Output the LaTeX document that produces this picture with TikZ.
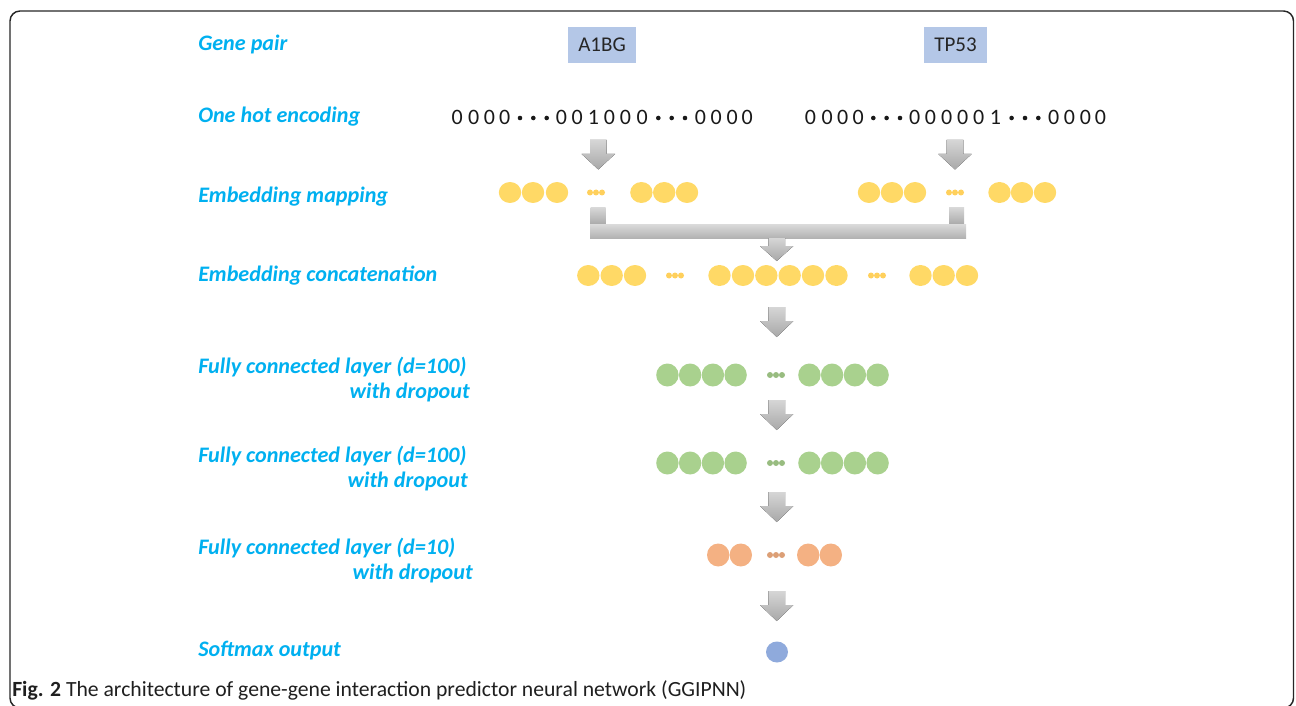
\documentclass[tikz,border=0pt]{standalone}
\usepackage{fontspec}
\setmainfont{Carlito}
\definecolor{lblc}{HTML}{00B0F0}
\definecolor{geneboxc}{HTML}{B4C7E7}
\definecolor{yel}{HTML}{FFD966}
\definecolor{grn}{HTML}{A9D18E}
\definecolor{org}{HTML}{F4B183}
\definecolor{blu}{HTML}{8FAADC}
\definecolor{arrtop}{HTML}{D6D6D6}
\definecolor{arrbot}{HTML}{A8A8A8}
\tikzset{
  lbl/.style={anchor=base west, inner sep=0pt, text=lblc, font=\fontsize{16.6}{19}\selectfont\bfseries\itshape},
  drop/.style={anchor=base east, inner sep=0pt, text=lblc, font=\fontsize{16.6}{19}\selectfont\bfseries\itshape},
  genebox/.style={fill=geneboxc, inner sep=0pt, minimum height=27pt, text=black!85, font=\fontsize{15.75}{18}\selectfont},
  digit/.style={anchor=base, inner sep=0pt, text=black!90, font=\fontsize{16.5}{18}\selectfont},
  barrow/.style={top color=arrtop, bottom color=arrbot, draw=none},
  bigdot/.style={x radius=11.2, y radius=10.5},
  fcdot/.style={x radius=11.2, y radius=11.5},
}
\newcommand{\blkarrow}[4]{% x, ytop, yhead, ytip
  \fill[barrow] (#1-8.3,#2) -- (#1+8.3,#2) -- (#1+8.3,#3) -- (#1+16.7,#3) -- (#1,#4)
     -- (#1-16.7,#3) -- (#1-8.3,#3) -- cycle;}
\begin{document}
\begin{tikzpicture}[x=0.75pt,y=-0.75pt]
\useasboundingbox (0,0) rectangle (1296,706);
% frame
\draw[line width=1.1pt, black!85, rounded corners=7.5pt] (10,11) rectangle (1293.5,708);

% labels
\node[lbl] (l1) at (198,51) {Gene pair};
\node[lbl] (l2) at (198,123) {One hot encoding};
\node[lbl] (l3) at (198,203) {Embedding mapping};
\node[lbl] (l4) at (198,281) {Embedding concatenation};
\node[lbl] (l5) at (198,373) {Fully connected layer (d=100)};
\node[drop] (l5b) at (470,398) {with dropout};
\node[lbl] (l6) at (198,462) {Fully connected layer (d=100)};
\node[drop] (l6b) at (468,487) {with dropout};
\node[lbl] (l7) at (198,554) {Fully connected layer (d=10)};
\node[drop] (l7b) at (473,579) {with dropout};
\node[lbl] (l8) at (198,656) {Softmax output};

% gene boxes
\node[genebox, minimum width=51pt] (a1bg) at (602,45) {A1BG};
\node[genebox, minimum width=47.25pt] (tp53) at (955.5,45) {TP53};

% one hot encodings
\foreach \x/\c in {457.2/0,473.8/0,489.5/0,504.8/0,561.5/0,577.2/0,593.5/1,609.5/0,625.5/0,642.2/0,700.5/0,716.2/0,732.2/0,747.2/0}
  \node[digit] at (\x,125) {\c};
\foreach \x in {520,533.3,546.7,658.3,671.7,685}
  \fill[black!90] (\x,118) circle[radius=2.3];
\foreach \x/\c in {457.2/0,473.8/0,489.5/0,504.8/0,561.5/0,577.2/0,593.5/0,609.5/0,625.5/0,642.2/1,700.5/0,716.2/0,732.2/0,747.2/0}
  \node[digit] at (\x+353.3,125) {\c};
\foreach \x in {520,533.3,546.7,658.3,671.7,685}
  \fill[black!90] (\x+353.3,118) circle[radius=2.3];

% arrows to embedding
\blkarrow{598.3}{140}{154}{169.5}
\blkarrow{955}{140}{154}{169.5}

% embedding mapping
\foreach \x in {510,533,557,641.4,664.2,687,869,892,915,999.5,1022,1045}
  \fill[yel] (\x,192.5) ellipse[bigdot];
\foreach \x in {590,596,602,949,955,961}
  \fill[yel!90!orange] (\x,192.5) circle[radius=3];

% merge bracket
\fill[barrow] (590.7,208) rectangle (605.7,225);
\fill[barrow] (949,208) rectangle (964,225);
\fill[top color=arrtop!90!white, bottom color=arrbot!90!white] (590,224.3) rectangle (966,238.5);
\blkarrow{776.7}{238}{246}{261}

% concatenation
\foreach \x in {588.3,611.7,635,719.5,743,766.3,789.7,813,836.5,920.5,943.7,967}
  \fill[yel] (\x,275.5) ellipse[bigdot];
\foreach \x in {669,675,681,871,877,883}
  \fill[yel!90!orange] (\x,275.5) circle[radius=3];

\blkarrow{776.7}{307}{321}{337}

% FC1
\foreach \x in {667.4,690.1,712.9,735.6,809.4,832.1,854.9,877.6}
  \fill[grn] (\x,375) ellipse[fcdot];
\foreach \x in {770,776,782}
  \fill[grn!90!black] (\x,375) circle[radius=3];

\blkarrow{776.7}{400}{414}{430}

% FC2
\foreach \x in {667.4,690.1,712.9,735.6,809.4,832.1,854.9,877.6}
  \fill[grn] (\x,463) ellipse[fcdot];
\foreach \x in {770,776,782}
  \fill[grn!90!black] (\x,463) circle[radius=3];

\blkarrow{776.7}{492}{506}{522}

% FC3
\foreach \x in {718.2,740.8,808.2,830.8}
  \fill[org] (\x,555) ellipse[fcdot];
\foreach \x in {770,776,782}
  \fill[org!90!black] (\x,555) circle[radius=3];

\blkarrow{776.7}{591}{605}{621}

% softmax
\fill[blu] (777,652) ellipse[x radius=11, y radius=10.5];

% caption
\node[anchor=base west, inner sep=0pt, text=black!88, font=\fontsize{16.25}{19}\selectfont] (cap) at (12,696)
  {\textbf{Fig. 2} The architecture of gene-gene interaction predictor neural network (GGIPNN)};
\end{tikzpicture}
\end{document}
